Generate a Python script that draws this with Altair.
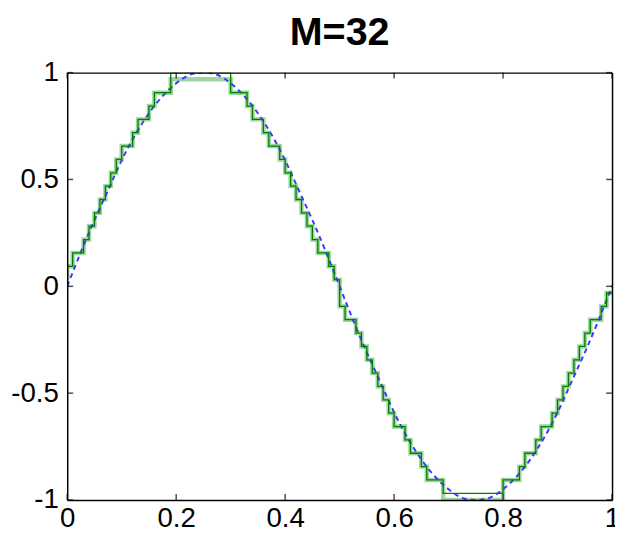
import altair as alt
import pandas as pd

title_text = "M=32"
x_ticks = [0, 0.2, 0.4, 0.6, 0.8, 1]
y_ticks = [-1, -0.5, 0, 0.5, 1]

# reference sine (blue dashed), read at steps of 0.025
sine_x = [i * 0.025 for i in range(41)]
sine_y = [0, 0.16, 0.31, 0.45, 0.59, 0.71, 0.81, 0.89, 0.95, 0.99, 1.0,
          0.99, 0.95, 0.89, 0.81, 0.71, 0.59, 0.45, 0.31, 0.16, 0,
          -0.16, -0.31, -0.45, -0.59, -0.71, -0.81, -0.89, -0.95, -0.99, -1.0,
          -0.99, -0.95, -0.89, -0.81, -0.71, -0.59, -0.45, -0.31, -0.16, 0]

# staircase samples every 0.01, levels in units of 1/32
stair_x = [i / 100 for i in range(101)]
light_lv = [1, 3, 5, 5, 7, 9, 11, 13, 15, 17, 19, 21, 21, 23, 25, 25, 27, 29, 29, 29,
            31, 31, 31, 31, 31, 31, 31, 31, 31, 31, 31,
            29, 29, 29, 27, 25, 25, 23, 21, 21, 19, 17, 15, 13, 11, 9, 7, 5, 5, 3, 1,
            -3, -5, -5, -7, -9, -11, -13, -15, -17, -19, -21, -21, -23, -25, -25, -27, -29, -29, -29,
            -32, -32, -32, -32, -32, -32, -32, -32, -32, -32, -32,
            -29, -29, -29, -27, -25, -25, -23, -21, -21, -19, -17, -15, -13, -11, -9, -7, -5, -5, -3, -1]
dark_lv = [1, 3, 5, 5, 7, 9, 11, 13, 15, 17, 19, 21, 21, 23, 25, 25, 27, 29, 29, 29,
           32, 32, 32, 32, 32, 32, 32, 32, 32, 32, 32,
           29, 29, 29, 27, 25, 25, 23, 21, 21, 19, 17, 15, 13, 11, 9, 7, 5, 5, 3, 1,
           -3, -5, -5, -7, -9, -11, -13, -15, -17, -19, -21, -21, -23, -25, -25, -27, -29, -29, -29,
           -31, -31, -31, -31, -31, -31, -31, -31, -31, -31, -31,
           -29, -29, -29, -27, -25, -25, -23, -21, -21, -19, -17, -15, -13, -11, -9, -7, -5, -5, -3, -1]

sine_df = pd.DataFrame({"x": sine_x, "y": sine_y})
stair_df = pd.DataFrame({"x": stair_x,
                         "light": [v / 32 for v in light_lv],
                         "dark": [v / 32 for v in dark_lv]})
xt_df = pd.DataFrame({"x": x_ticks})
yt_df = pd.DataFrame({"y": y_ticks})

W, H = 552, 433
FONT = "Liberation Sans, Arial"
xs = alt.Scale(domain=[0, 1], nice=False, zero=False)
ys = alt.Scale(domain=[-1, 1], nice=False, zero=False)

ax_common = dict(grid=False, ticks=False, domainColor="black", domainWidth=1.5,
                 labelColor="black", labelFont=FONT, labelFontSize=28, zindex=1)

label_expr = ("(datum.value < 0 ? '-' : '') + "
              "(abs(datum.value) == 0 || abs(datum.value) == 1 ? format(abs(datum.value), 'd') "
              ": format(abs(datum.value), '.1f'))")

light = alt.Chart(stair_df).mark_line(interpolate="step-before", color="#9fd59f",
                                      strokeWidth=4.5, clip=True).encode(
    x=alt.X("x:Q", scale=xs, title=None,
            axis=alt.Axis(values=x_ticks, orient="bottom", labelPadding=5, labelFlush=False,
                          labelExpr=label_expr, **ax_common)),
    y=alt.Y("light:Q", scale=ys, title=None,
            axis=alt.Axis(values=y_ticks, orient="left", labelPadding=9, labelFlush=False,
                          labelExpr=label_expr, **ax_common)),
)

blue = alt.Chart(sine_df).mark_line(interpolate="natural", color="#3a3aff", strokeWidth=2,
                                    strokeDash=[5, 4], clip=True).encode(
    x=alt.X("x:Q", scale=xs, axis=None),
    y=alt.Y("y:Q", scale=ys, axis=None),
)

dark = alt.Chart(stair_df).mark_line(interpolate="step-before", color="#008000",
                                     strokeWidth=1.3, clip=True).encode(
    x=alt.X("x:Q", scale=xs, axis=None),
    y=alt.Y("dark:Q", scale=ys, axis=None),
)

top_ticks = alt.Chart(xt_df).mark_tick(orient="vertical", color="black", size=6, thickness=1.5).encode(
    x=alt.X("x:Q", scale=xs, title=None,
            axis=alt.Axis(orient="top", labels=False, ticks=False, grid=False,
                          domainColor="black", domainWidth=1.5, zindex=1)),
    y=alt.value(3),
)
bottom_ticks = alt.Chart(xt_df).mark_tick(orient="vertical", color="black", size=6, thickness=1.5).encode(
    x=alt.X("x:Q", scale=xs, axis=None),
    y=alt.value(H - 3),
)
left_ticks = alt.Chart(yt_df).mark_tick(orient="horizontal", color="black", size=6, thickness=1.5).encode(
    y=alt.Y("y:Q", scale=ys, axis=None),
    x=alt.value(3),
)
right_ticks = alt.Chart(yt_df).mark_tick(orient="horizontal", color="black", size=6, thickness=1.5).encode(
    y=alt.Y("y:Q", scale=ys, title=None,
            axis=alt.Axis(orient="right", labels=False, ticks=False, grid=False,
                          domainColor="black", domainWidth=1.5, zindex=1)),
    x=alt.value(W - 3),
)

chart = alt.layer(light, blue, dark, top_ticks, bottom_ticks, left_ticks, right_ticks).resolve_axis(
    x="independent", y="independent"
).properties(
    width=W, height=H,
    title=alt.TitleParams(title_text, font="Liberation Sans", fontSize=40, fontWeight="bold",
                          color="black", anchor="middle", offset=6),
    autosize=alt.AutoSizeParams(type="none"),
    padding={"left": 60, "top": 62, "right": 3, "bottom": 34},
).configure_view(stroke=None)

chart.save("out.html", embed_options={"renderer": "svg", "actions": False})
